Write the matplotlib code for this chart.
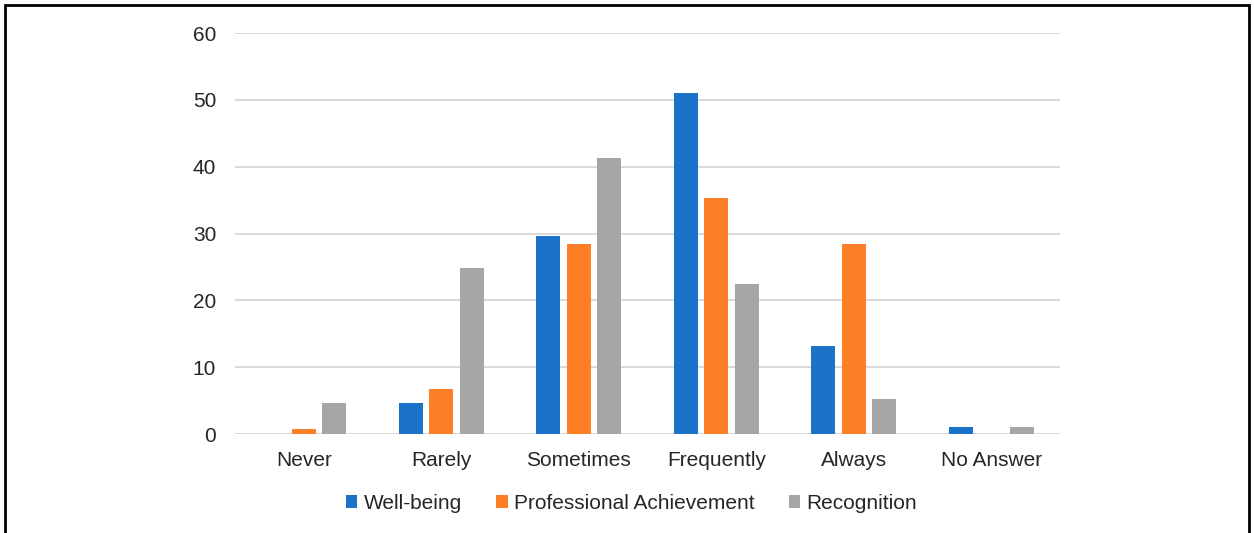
import numpy as np
import matplotlib
matplotlib.use("Agg")
import matplotlib.pyplot as plt
from matplotlib.patches import Rectangle

# Data
categories = ["Never", "Rarely", "Sometimes", "Frequently", "Always", "No Answer"]
well_being = [0, 4.6, 29.7, 51.1, 13.2, 1.1]
prof_achievement = [0.7, 6.8, 28.5, 35.3, 28.5, 0]
recognition = [4.6, 24.8, 41.3, 22.5, 5.2, 1.1]
series_names = ["Well-being", "Professional Achievement", "Recognition"]
colors = ["#1a73c8", "#ff7f27", "#a6a6a6"]

plt.rcParams["font.family"] = ["Liberation Sans", "DejaVu Sans"]

fig = plt.figure(figsize=(12.54, 5.33), dpi=100)
ax = fig.add_axes([0.1874, 0.1857, 0.6579, 0.7523])

x = np.arange(len(categories))
width = 0.175
step = 0.222
for i, (vals, name, c) in enumerate(zip([well_being, prof_achievement, recognition],
                                         series_names, colors)):
    ax.bar(x + (i - 1) * step, vals, width, color=c, label=name, zorder=3)

ax.set_xlim(-0.5, len(categories) - 0.5)
ax.set_ylim(0, 60)
ax.set_yticks(range(0, 61, 10))
ax.set_xticks(x)
ax.set_xticklabels(categories)
ax.tick_params(axis="both", length=0, labelsize=15, colors="#262626")
ax.tick_params(axis="x", pad=12)
ax.tick_params(axis="y", pad=13.5)
ax.grid(axis="y", color="#d9d9d9", linewidth=1.4, zorder=0)
for s in ax.spines.values():
    s.set_visible(False)

leg = fig.legend(loc="center", bbox_to_anchor=(0.5036, 0.056), ncol=3, frameon=False,
                 fontsize=15, handlelength=0.55, handleheight=0.55, handletextpad=0.3,
                 columnspacing=1.65)
for t in leg.get_texts():
    t.set_color("#262626")

# outer frame (bottom edge runs off the image)
fig.add_artist(Rectangle((0.004, -0.05), 0.992, 1.04, transform=fig.transFigure,
                         fill=False, edgecolor="black", linewidth=2))

fig.savefig("out.png", dpi=100)
